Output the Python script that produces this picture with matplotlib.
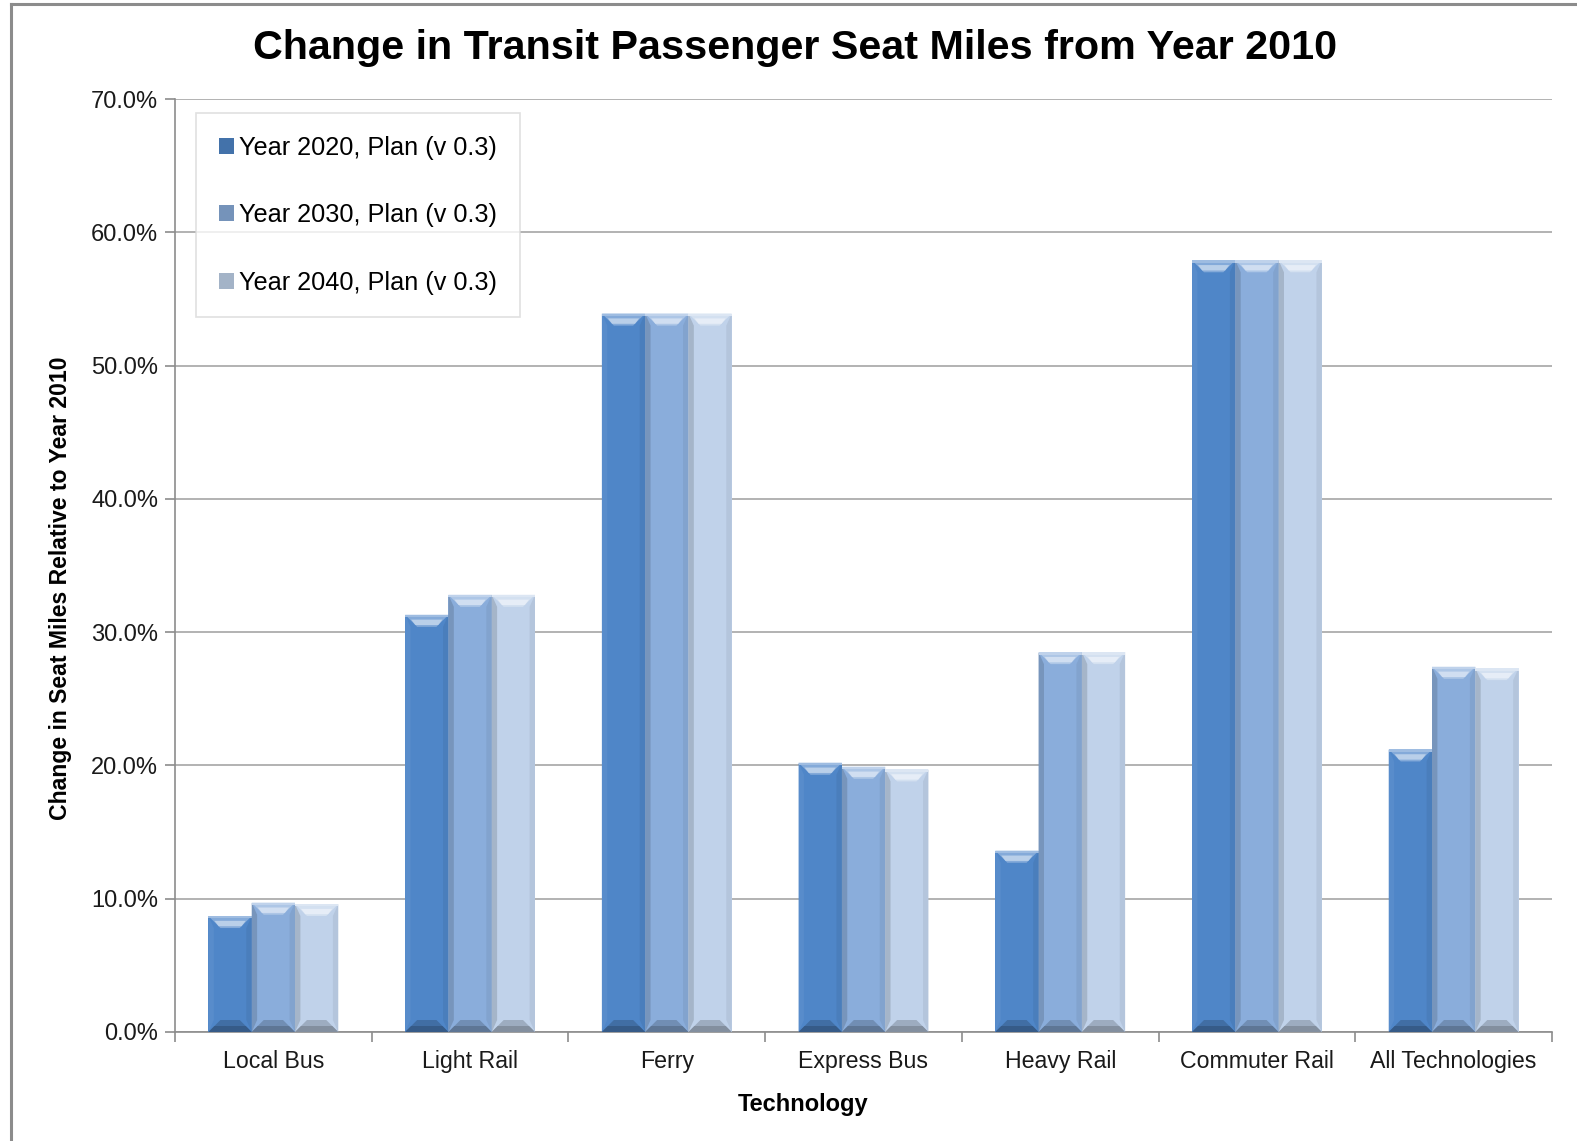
import matplotlib
matplotlib.use("Agg")
import matplotlib.pyplot as plt
import numpy as np
from matplotlib.patches import Polygon, Rectangle
from matplotlib.lines import Line2D
import matplotlib.colors as mcolors

plt.rcParams['font.family'] = ['Liberation Sans', 'DejaVu Sans']

categories = ["Local Bus", "Light Rail", "Ferry", "Express Bus", "Heavy Rail", "Commuter Rail", "All Technologies"]
series_names = ["Year 2020, Plan (v 0.3)", "Year 2030, Plan (v 0.3)", "Year 2040, Plan (v 0.3)"]
y2020 = [8.7, 31.3, 53.9, 20.2, 13.6, 57.9, 21.2]
y2030 = [9.7, 32.8, 53.9, 19.9, 28.5, 57.9, 27.4]
y2040 = [9.6, 32.8, 53.9, 19.7, 28.5, 57.9, 27.3]
yticks = [0, 10, 20, 30, 40, 50, 60, 70]
colors = ["#4f86c8", "#8aaddb", "#c0d2ea"]

W, H = 1577, 1141
fig = plt.figure(figsize=(W/100, H/100), dpi=100)
ax_l, ax_r, ax_t, ax_b = 175, 1552, 99, 1032
ax = fig.add_axes([ax_l/W, 1-ax_b/H, (ax_r-ax_l)/W, (ax_b-ax_t)/H])
ax.set_ylim(0, 70)
ax.set_xlim(-0.5, len(categories)-0.5)

# figure border (left and top only visible)
fig.add_artist(Line2D([11/W, 11/W], [0, 1-4/H], transform=fig.transFigure, color="#8c8c8c", linewidth=2.2))
fig.add_artist(Line2D([11/W, 1], [1-4/H, 1-4/H], transform=fig.transFigure, color="#8c8c8c", linewidth=2.2))

px_y = 70/(ax_b-ax_t)
px_x = (len(categories))/(ax_r-ax_l)

def shade(c, f):
    r = np.array(mcolors.to_rgb(c))
    if f > 0:
        r = r + (1-r)*f
    else:
        r = r*(1+f)
    return tuple(np.clip(r, 0, 1))

bw = 0.22
x = np.arange(len(categories))
for i, (vals, col) in enumerate(zip([y2020, y2030, y2040], colors)):
    xs = x + (i-1)*bw
    bars = ax.bar(xs, vals, width=bw, color=col, edgecolor="none", zorder=3, label=series_names[i])
    bh = 12*px_y
    bx = 12*px_x
    for b in bars:
        x0 = b.get_x(); x1 = x0 + b.get_width(); t = b.get_height()
        # left side shadow strip (cast by neighbour) for later series
        lf = -0.14 if i > 0 else 0.05
        ax.add_patch(Polygon([(x0, 0), (x0+bx*0.45, bh), (x0+bx*0.45, t-bh), (x0, t)], closed=True,
                             facecolor=shade(col, lf), edgecolor="none", zorder=4))
        # right side
        ax.add_patch(Polygon([(x1, 0), (x1-bx*0.45, bh), (x1-bx*0.45, t-bh), (x1, t)], closed=True,
                             facecolor=shade(col, -0.06), edgecolor="none", zorder=4))
        # top bevel
        ax.add_patch(Polygon([(x0, t), (x1, t), (x1-bx, t-bh), (x0+bx, t-bh)], closed=True,
                             facecolor=shade(col, 0.3), edgecolor="none", zorder=4))
        ax.add_patch(Polygon([(x0+bx*0.5, t-bh*0.4), (x1-bx*0.5, t-bh*0.4), (x1-bx*0.85, t-bh*0.85), (x0+bx*0.85, t-bh*0.85)],
                             closed=True, facecolor=shade(col, 0.6), edgecolor="none", zorder=4))
        ax.add_patch(Polygon([(x0, t), (x1, t), (x1, t-bh*0.2), (x0, t-bh*0.2)], closed=True,
                             facecolor=shade(col, 0.45), edgecolor="none", zorder=4))
        # bottom bevel
        ax.add_patch(Polygon([(x0, 0), (x1, 0), (x1-bx, bh), (x0+bx, bh)], closed=True,
                             facecolor=shade(col, -0.18), edgecolor="none", zorder=4))
        ax.add_patch(Polygon([(x0, 0), (x1, 0), (x1-bx*0.5, bh*0.5), (x0+bx*0.5, bh*0.5)], closed=True,
                             facecolor=shade(col, -0.32), edgecolor="none", zorder=4))

ax.set_yticks(yticks)
ax.set_yticklabels([f"{v:.1f}%" for v in yticks], fontsize=17, color="#1a1a1a")
ax.yaxis.grid(True, color="#a6a6a6", linewidth=1.2, zorder=0)
ax.set_axisbelow(True)
ax.set_xticks(x)
ax.set_xticklabels(categories, fontsize=16.7, color="#1a1a1a")
ax.set_xticks(np.arange(-0.5, len(categories)), minor=True)
ax.tick_params(axis='x', which='major', length=0, pad=13)
ax.tick_params(axis='x', which='minor', length=7, color="#8c8c8c", width=1.2)
ax.tick_params(axis='y', length=7, color="#8c8c8c", width=1.2, pad=5)
for s in ["top", "right"]:
    ax.spines[s].set_visible(False)
for s in ["left", "bottom"]:
    ax.spines[s].set_color("#8c8c8c")
    ax.spines[s].set_linewidth(1.2)

fig.text(803/W, 1-1105/H, "Technology", ha="center", va="center", fontsize=17, fontweight="bold")
fig.text(61/W, 1-588/H, "Change in Seat Miles Relative to Year 2010", ha="center", va="center",
         rotation=90, fontsize=16.6, fontweight="bold")
fig.text(795/W, 1-48/H, "Change in Transit Passenger Seat Miles from Year 2010", ha="center", va="center",
         fontsize=29.7, fontweight="bold")

handles = [Rectangle((0, 0), 1, 1, facecolor=shade(c, -0.15), edgecolor="none") for c in colors]
leg = ax.legend(handles, series_names, loc="upper left", bbox_to_anchor=((196-ax_l)/(ax_r-ax_l), 1-(113-ax_t)/(ax_b-ax_t)),
                fontsize=18.2, frameon=True, fancybox=False, handlelength=0.6, handleheight=0.6,
                handletextpad=0.2, labelspacing=1.72, borderpad=0.9, borderaxespad=0)
leg.get_frame().set_edgecolor("#d9d9d9")
leg.get_frame().set_linewidth(1.2)
leg.set_zorder(5)

fig.savefig("out.png", dpi=100)
